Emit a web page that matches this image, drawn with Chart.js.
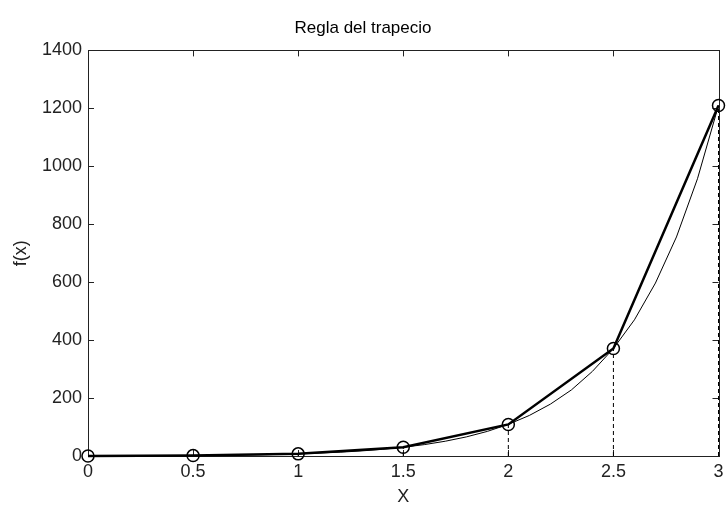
<!DOCTYPE html>
<html>
<head>
<meta charset="utf-8">
<script src="https://cdn.jsdelivr.net/npm/chart.js@4.4.0/dist/chart.umd.min.js"></script>
<style>
  body { margin: 0; background: #fff; overflow: hidden; }
  #wrap { width: 726px; height: 506px; }
</style>
</head>
<body>
<div id="wrap"><canvas id="chart"></canvas></div>
<script>
// nodes of the trapezoid rule
const nodeX = [0, 0.5, 1, 1.5, 2, 2.5, 3];
const nodeY = [0, 1.4, 7.4, 30, 109, 371, 1210];

// smooth curve f(x)
const curveX = [0, 0.1, 0.2, 0.3, 0.4, 0.5, 0.6, 0.7, 0.8, 0.9, 1.0,
                1.1, 1.2, 1.3, 1.4, 1.5, 1.6, 1.7, 1.8, 1.9, 2.0,
                2.1, 2.2, 2.3, 2.4, 2.5, 2.6, 2.7, 2.8, 2.9, 3.0];
const curveY = [0, 0.12, 0.3, 0.55, 0.89, 1.36, 2.0, 2.84, 3.96, 5.44, 7.39,
                9.93, 13.2, 17.5, 23.0, 30.1, 39.3, 51.0, 65.9, 84.9, 109.2,
                140, 179, 228, 292, 371, 470, 597, 756, 957, 1210];

const xTicks = [0, 0.5, 1, 1.5, 2, 2.5, 3];
const yTicks = [0, 200, 400, 600, 800, 1000, 1200, 1400];

const FONT = "'Liberation Sans', Arial, sans-serif";
const INK = '#000';

const pts = (xs, ys) => xs.map((v, i) => ({x: v, y: ys[i]}));

// dashed verticals from the axis up to each node
const dropLines = nodeX.map((v, i) => ({
  data: [{x: v, y: 0}, {x: v, y: nodeY[i]}],
  borderColor: INK,
  borderWidth: 1,
  borderDash: [4, 3],
  pointRadius: 0,
  showLine: true,
  clip: false
}));

// box with inward ticks on all four sides, like the original figure
const frame = {
  id: 'frame',
  beforeDatasetsDraw(chart) {
    const {ctx, chartArea: a, scales: {x, y}} = chart;
    ctx.save();
    ctx.strokeStyle = '#222';
    ctx.lineWidth = 1;
    ctx.strokeRect(Math.round(a.left) + 0.5, Math.round(a.top) + 0.5,
                   Math.round(a.right - a.left), Math.round(a.bottom - a.top));
    ctx.beginPath();
    x.ticks.forEach(t => {
      const px = Math.round(x.getPixelForValue(t.value)) + 0.5;
      ctx.moveTo(px, a.bottom); ctx.lineTo(px, a.bottom - 6);
      ctx.moveTo(px, a.top); ctx.lineTo(px, a.top + 6);
    });
    y.ticks.forEach(t => {
      const py = Math.round(y.getPixelForValue(t.value)) + 0.5;
      ctx.moveTo(a.left, py); ctx.lineTo(a.left + 6, py);
      ctx.moveTo(a.right, py); ctx.lineTo(a.right - 6, py);
    });
    ctx.stroke();
    ctx.restore();
  }
};

new Chart(document.getElementById('chart'), {
  type: 'scatter',
  data: {
    datasets: [
      {
        data: pts(curveX, curveY),
        borderColor: INK,
        borderWidth: 1,
        pointRadius: 0,
        showLine: true
      },
      {
        data: pts(nodeX, nodeY),
        borderColor: INK,
        borderWidth: 2.5,
        pointRadius: 6,
        pointBorderWidth: 1.5,
        pointBackgroundColor: 'rgba(0,0,0,0)',
        pointBorderColor: INK,
        showLine: true,
        clip: false
      },
      ...dropLines
    ]
  },
  options: {
    responsive: true,
    maintainAspectRatio: false,
    animation: false,
    layout: { padding: { left: 0, right: 0, top: 0, bottom: 0 } },
    plugins: {
      legend: { display: false },
      tooltip: { enabled: false },
      title: {
        display: true,
        text: 'Regla del trapecio',
        color: INK,
        font: { family: FONT, size: 17, weight: 'normal', lineHeight: 1.2 },
        padding: { top: 18, bottom: 12 }
      }
    },
    scales: {
      x: {
        type: 'linear',
        min: 0, max: 3,
        afterBuildTicks: s => { s.ticks = xTicks.map(v => ({value: v})); },
        afterFit: s => { s.height = 50; s.paddingRight = 3; },
        grid: { display: false, drawTicks: false },
        border: { display: false },
        ticks: { color: '#222', padding: 5, font: { family: FONT, size: 18 },
                 callback: v => String(v) },
        title: { display: true, text: 'X', color: '#222', padding: 0,
                 font: { family: FONT, size: 18, lineHeight: 1 } }
      },
      y: {
        type: 'linear',
        min: 0, max: 1400,
        afterBuildTicks: s => { s.ticks = yTicks.map(v => ({value: v})); },
        afterFit: s => { s.width = 88; },
        grid: { display: false, drawTicks: false },
        border: { display: false },
        ticks: { color: '#222', padding: 6, font: { family: FONT, size: 18 },
                 callback: v => String(v) },
        title: { display: true, text: 'f(x)', color: '#222', padding: { top: 12, bottom: 0 },
                 font: { family: FONT, size: 18, lineHeight: 1 } }
      }
    }
  },
  plugins: [frame]
});
</script>
</body>
</html>
